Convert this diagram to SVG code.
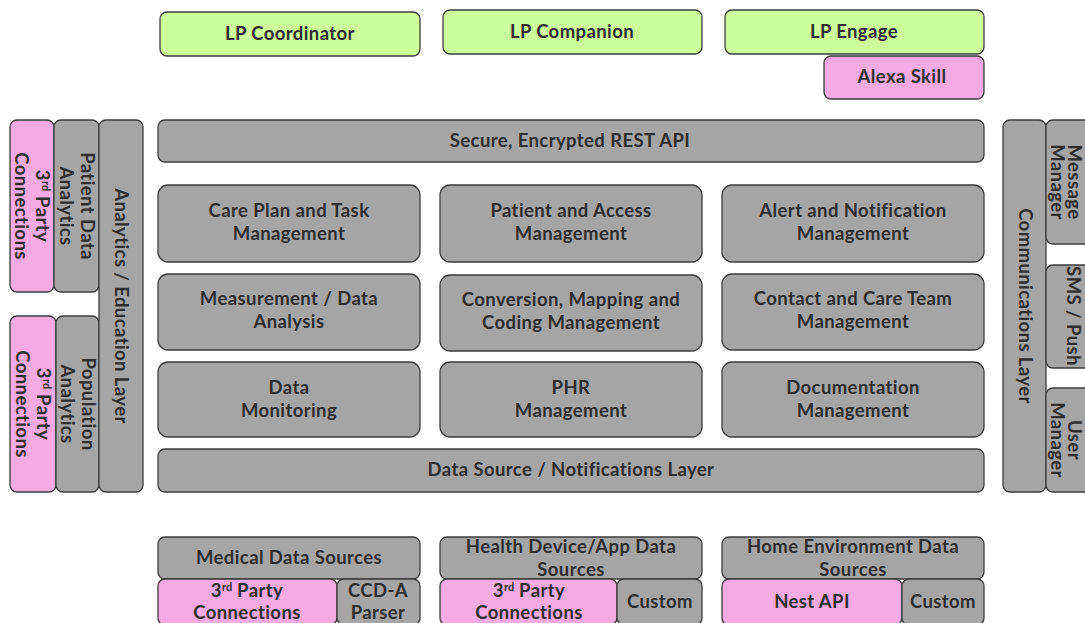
<svg xmlns="http://www.w3.org/2000/svg" width="1085" height="623" viewBox="0 0 1085 623">
  <style>
    .box { stroke: #3c3c3c; stroke-width: 1.3; }
    .gray { fill: #a5a5a5; }
    .green { fill: #ccfe9c; }
    .pink { fill: #f5aae3; }
    text { font-family: "Lato", "Liberation Sans", sans-serif; font-weight: bold; font-size: 18.5px; letter-spacing: 0.4px; fill: #2e2e2e; text-anchor: middle; }
    .sup { font-size: 11px; letter-spacing: 0; }
  </style>
  <rect width="1085" height="623" fill="#ffffff"/>

  <!-- client applications -->
  <g id="lp-coordinator">
    <rect class="box green" x="160" y="12" width="260" height="44" rx="7"/>
    <text x="290" y="40">LP Coordinator</text>
  </g>
  <g id="lp-companion">
    <rect class="box green" x="443" y="10" width="259" height="44" rx="7"/>
    <text x="572" y="38">LP Companion</text>
  </g>
  <g id="lp-engage">
    <rect class="box green" x="725" y="10" width="259" height="44" rx="7"/>
    <text x="854" y="38">LP Engage</text>
  </g>
  <g id="alexa-skill">
    <rect class="box pink" x="824" y="56" width="160" height="43" rx="7"/>
    <text x="902" y="83">Alexa Skill</text>
  </g>

  <!-- API and core layers -->
  <g id="rest-api">
    <rect class="box gray" x="158" y="120" width="826" height="42" rx="7"/>
    <text x="570" y="147">Secure, Encrypted REST API</text>
  </g>

  <g id="care-plan">
    <rect class="box gray" x="158" y="185" width="262" height="77" rx="10"/>
    <text x="289" y="217">Care Plan and Task</text>
    <text x="289" y="240">Management</text>
  </g>
  <g id="patient-access">
    <rect class="box gray" x="440" y="185" width="262" height="77" rx="10"/>
    <text x="571" y="217">Patient and Access</text>
    <text x="571" y="240">Management</text>
  </g>
  <g id="alert-notification">
    <rect class="box gray" x="722" y="185" width="262" height="77" rx="10"/>
    <text x="853" y="217">Alert and Notification</text>
    <text x="853" y="240">Management</text>
  </g>

  <g id="measurement">
    <rect class="box gray" x="158" y="274" width="262" height="76" rx="10"/>
    <text x="289" y="305">Measurement / Data</text>
    <text x="289" y="328">Analysis</text>
  </g>
  <g id="conversion">
    <rect class="box gray" x="440" y="275" width="262" height="76" rx="10"/>
    <text x="571" y="306">Conversion, Mapping  and</text>
    <text x="571" y="329">Coding Management</text>
  </g>
  <g id="contact-care-team">
    <rect class="box gray" x="722" y="274" width="262" height="76" rx="10"/>
    <text x="853" y="305">Contact and Care Team</text>
    <text x="853" y="328">Management</text>
  </g>

  <g id="data-monitoring">
    <rect class="box gray" x="158" y="362" width="262" height="75" rx="10"/>
    <text x="289" y="394">Data</text>
    <text x="289" y="417">Monitoring</text>
  </g>
  <g id="phr">
    <rect class="box gray" x="440" y="362" width="262" height="75" rx="10"/>
    <text x="571" y="394">PHR</text>
    <text x="571" y="417">Management</text>
  </g>
  <g id="documentation">
    <rect class="box gray" x="722" y="362" width="262" height="75" rx="10"/>
    <text x="853" y="394">Documentation</text>
    <text x="853" y="417">Management</text>
  </g>

  <g id="data-source-layer">
    <rect class="box gray" x="158" y="449" width="826" height="43" rx="7"/>
    <text x="571" y="476">Data Source / Notifications Layer</text>
  </g>

  <!-- analytics side -->
  <g id="third-party-upper">
    <rect class="box pink" x="10" y="120" width="44" height="172" rx="7"/>
    <g transform="translate(32,206) rotate(90)">
      <text x="0" y="-4">3<tspan class="sup" dy="-6">rd</tspan><tspan dy="6"> Party</tspan></text>
      <text x="0" y="17">Connections</text>
    </g>
  </g>
  <g id="patient-analytics">
    <rect class="box gray" x="54" y="120" width="45" height="172" rx="7"/>
    <g transform="translate(76.5,206) rotate(90)">
      <text x="0" y="-4">Patient Data</text>
      <text x="0" y="17">Analytics</text>
    </g>
  </g>
  <g id="third-party-lower">
    <rect class="box pink" x="10" y="316" width="46" height="176" rx="7"/>
    <g transform="translate(33,404) rotate(90)">
      <text x="0" y="-4">3<tspan class="sup" dy="-6">rd</tspan><tspan dy="6"> Party</tspan></text>
      <text x="0" y="17">Connections</text>
    </g>
  </g>
  <g id="population-analytics">
    <rect class="box gray" x="56" y="316" width="43" height="176" rx="7"/>
    <g transform="translate(77.5,404) rotate(90)">
      <text x="0" y="-4">Population</text>
      <text x="0" y="17">Analytics</text>
    </g>
  </g>
  <g id="analytics-layer">
    <rect class="box gray" x="99" y="120" width="44" height="372" rx="7"/>
    <g transform="translate(121,306) rotate(90)">
      <text x="0" y="6">Analytics / Education Layer</text>
    </g>
  </g>

  <!-- communications side -->
  <g id="communications-layer">
    <rect class="box gray" x="1003" y="120" width="43" height="372" rx="7"/>
    <g transform="translate(1024.5,306) rotate(90)">
      <text x="0" y="6">Communications Layer</text>
    </g>
  </g>
  <g id="message-manager">
    <rect class="box gray" x="1046" y="120" width="46" height="124" rx="7"/>
    <g transform="translate(1066,182) rotate(90)">
      <text x="0" y="-2">Message</text>
      <text x="0" y="15">Manager</text>
    </g>
  </g>
  <g id="sms-push">
    <rect class="box gray" x="1046" y="265" width="46" height="103" rx="7"/>
    <g transform="translate(1066,316) rotate(90)">
      <text x="0" y="-1">SMS / Push</text>
    </g>
  </g>
  <g id="user-manager">
    <rect class="box gray" x="1046" y="388" width="46" height="104" rx="7"/>
    <g transform="translate(1066,440) rotate(90)">
      <text x="0" y="-2">User</text>
      <text x="0" y="15">Manager</text>
    </g>
  </g>

  <!-- data sources -->
  <g id="medical-sources">
    <rect class="box gray" x="158" y="537" width="262" height="42" rx="7"/>
    <text x="289" y="564">Medical Data Sources</text>
  </g>
  <g id="medical-third-party">
    <rect class="box pink" x="158" y="579" width="179" height="46" rx="7"/>
    <text x="247" y="597">3<tspan class="sup" dy="-6">rd</tspan><tspan dy="6"> Party</tspan></text>
    <text x="247" y="619">Connections</text>
  </g>
  <g id="ccda-parser">
    <rect class="box gray" x="337" y="579" width="83" height="46" rx="7"/>
    <text x="378" y="597">CCD-A</text>
    <text x="378" y="619">Parser</text>
  </g>

  <g id="device-sources">
    <rect class="box gray" x="440" y="537" width="262" height="42" rx="7"/>
    <text x="571" y="553">Health Device/App Data</text>
    <text x="571" y="576">Sources</text>
  </g>
  <g id="device-third-party">
    <rect class="box pink" x="440" y="579" width="177" height="46" rx="7"/>
    <text x="529" y="597">3<tspan class="sup" dy="-6">rd</tspan><tspan dy="6"> Party</tspan></text>
    <text x="529" y="619">Connections</text>
  </g>
  <g id="device-custom">
    <rect class="box gray" x="617" y="579" width="85" height="46" rx="7"/>
    <text x="660" y="608">Custom</text>
  </g>

  <g id="home-sources">
    <rect class="box gray" x="722" y="537" width="262" height="42" rx="7"/>
    <text x="853" y="553">Home Environment Data</text>
    <text x="853" y="576">Sources</text>
  </g>
  <g id="nest-api">
    <rect class="box pink" x="722" y="579" width="180" height="46" rx="7"/>
    <text x="812" y="608">Nest API</text>
  </g>
  <g id="home-custom">
    <rect class="box gray" x="902" y="579" width="82" height="46" rx="7"/>
    <text x="943" y="608">Custom</text>
  </g>

  <!-- no connectors are drawn between the layers -->
  <g id="connectors"/>
</svg>
